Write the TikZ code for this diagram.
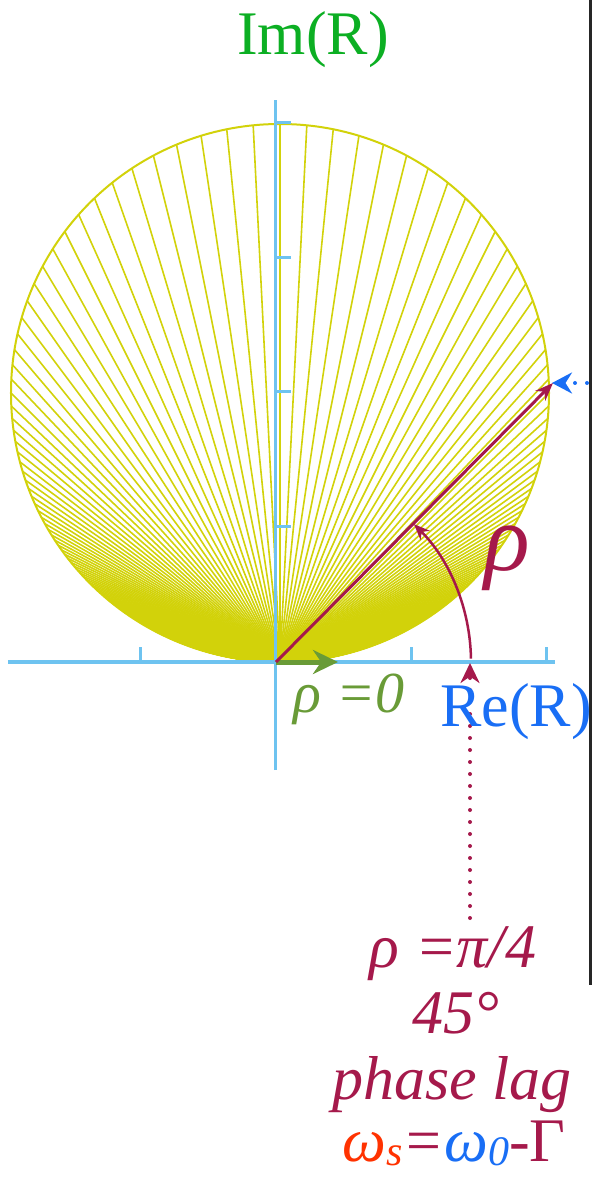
\documentclass[tikz,border=0pt]{standalone}
\usepackage{fontspec}
\setmainfont{Liberation Serif}
\usetikzlibrary{arrows.meta}

\definecolor{axisblue}{RGB}{110,195,240}
\definecolor{fanyellow}{RGB}{210,210,10}
\definecolor{imgreen}{RGB}{12,175,35}
\definecolor{lagred}{RGB}{165,25,75}
\definecolor{zerogreen}{RGB}{105,155,55}
\definecolor{reblue}{RGB}{25,110,245}
\definecolor{omred}{RGB}{255,50,0}

\newcommand{\bigtxt}{\fontsize{62}{66}\selectfont}
\newcommand{\subtxt}[1]{\raisebox{-0.15ex}{\fontsize{42}{42}\selectfont #1}}

\begin{document}
\begin{tikzpicture}[x=1pt, y=1pt,
    axis/.style={axisblue, line width=3.5pt},
    fanline/.style={fanyellow, line width=1.6pt},
    lbl/.style={anchor=base, inner sep=0pt, font=\bigtxt},
    dots/.style={line width=4pt, line cap=round, dash pattern=on 0pt off 12pt}]
    \useasboundingbox (-276,-516) rectangle (320,662);

    % fan of chords out of the origin
    \begin{scope}[xshift=4pt]
    \foreach \k [evaluate=\k as \a using 90-2*atan(\k/20)] in {-600,...,600}{
        \draw[fanline] (0,269) ++(\a:269) -- (0,0);
    }
    \draw[fanyellow, line width=2pt] (0,269) circle (269);
    \end{scope}

    % axes and ticks
    \draw[axis] (-268,0) -- (279,0);
    \draw[axis, line width=3pt] (0,-108) -- (0,562);
    \foreach \x in {-135,135,270} \draw[axis, line width=3pt] (\x,0) -- (\x,15);
    \foreach \y in {135,270,404,539} \draw[axis, line width=3pt] (0,\y) -- (15,\y);

    \coordinate (O) at (0,0);
    \coordinate (P) at (277,279);
    \coordinate (Z) at (62,0);
    \coordinate (A) at (1:195);
    \coordinate (D) at (194,-256);
    \coordinate (Dt) at (194,-1);
    \coordinate (B) at (311,279);
    \coordinate (Bt) at (276,279);

    \draw[zerogreen, line width=5pt, -{Stealth[length=25pt,width=24pt]}] (O) -- (Z);
    \draw[lagred, line width=3pt, -{Stealth[length=18pt,width=14pt]}] (O) -- (P);
    \draw[lagred, line width=2.5pt, -{Stealth[length=16pt,width=13pt]}] (A) arc[start angle=1, end angle=45, radius=195];
    \draw[lagred, dots, -{Stealth[length=20pt,width=19pt]}] (D) -- (Dt);
    \draw[reblue, dots, -{Stealth[length=20pt,width=21pt]}] (B) -- (Bt);

    % frame edge on the right
    \draw[black!85, line width=3pt] (314,662) -- (314,-323);

    \node[lbl, imgreen] (im) at (37,607) {Im(R)};
    \node[lbl, reblue] (re) at (240,-64) {Re(R)};
    \node[lbl, zerogreen, font=\fontsize{58}{60}\selectfont\itshape] (rzero) at (73,-50) {ρ =0};
    \node[lbl, lagred, font=\fontsize{95}{95}\selectfont\itshape] (rho) at (231,92) {ρ};

    \node[lbl, lagred, font=\bigtxt\itshape] (lagA) at (177,-305) {ρ =π/4};
    \node[lbl, lagred, font=\bigtxt\itshape] (lagB) at (180,-371) {45°};
    \node[lbl, lagred, font=\bigtxt\itshape] (lagC) at (176,-437) {phase lag};
    \node[lbl, font=\bigtxt\itshape] (lagD) at (178,-499)
        {\textcolor{omred}{ω\subtxt{s}}\textcolor{lagred}{=}\textcolor{reblue}{ω\subtxt{0}}\textcolor{lagred}{-\upshape Γ}};
\end{tikzpicture}
\end{document}
